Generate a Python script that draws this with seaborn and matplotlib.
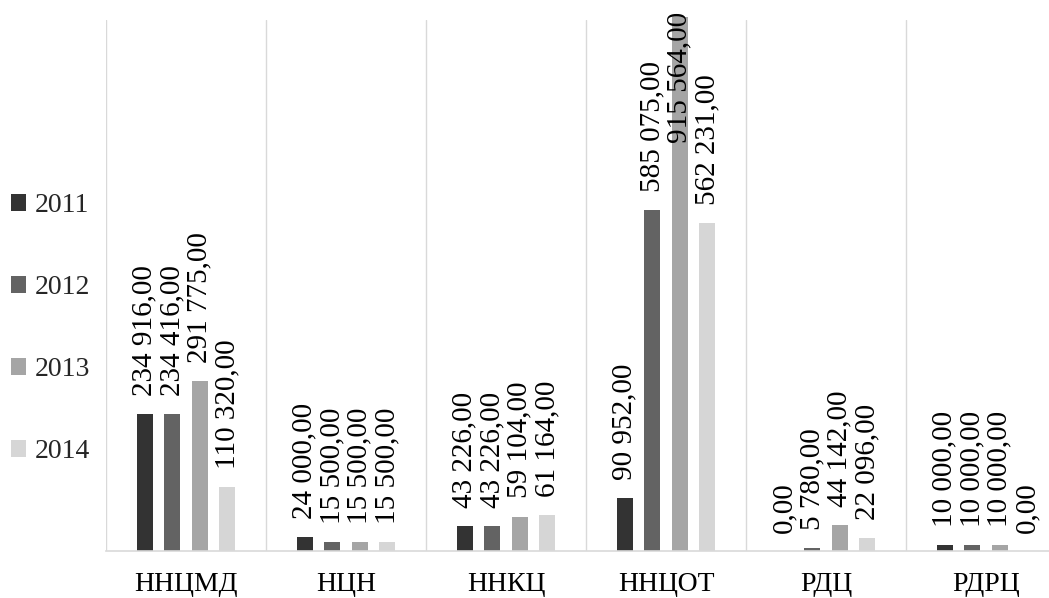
import numpy as np
import pandas as pd
import matplotlib
matplotlib.use("Agg")
import matplotlib.pyplot as plt
from matplotlib.patches import Patch
import seaborn as sns

categories = ["ННЦМД", "НЦН", "ННКЦ", "ННЦОТ", "РДЦ", "РДРЦ"]
years = ["2011", "2012", "2013", "2014"]
values_2011 = [234916.00, 24000.00, 43226.00, 90952.00, 0.00, 10000.00]
values_2012 = [234416.00, 15500.00, 43226.00, 585075.00, 5780.00, 10000.00]
values_2013 = [291775.00, 15500.00, 59104.00, 915564.00, 44142.00, 10000.00]
values_2014 = [110320.00, 15500.00, 61164.00, 562231.00, 22096.00, 0.00]
colors = ["#333333", "#636363", "#a5a5a5", "#d6d6d6"]

series = [values_2011, values_2012, values_2013, values_2014]
df = pd.DataFrame(
    [(c, y, v) for y, vals in zip(years, series) for c, v in zip(categories, vals)],
    columns=["category", "year", "value"],
)

sns.set_theme(style="white")
plt.rcParams["font.family"] = ["Liberation Serif", "DejaVu Serif"]

W, H = 1049, 598
fig = plt.figure(figsize=(W / 100, H / 100), dpi=100)
left, bottom, top = 106, 551, 20
ax = fig.add_axes([left / W, (H - bottom) / H, 960 / W, (bottom - top) / H])

sns.barplot(
    data=df, x="category", y="value", hue="year",
    order=categories, hue_order=years, palette=colors,
    width=0.69, gap=0.42, errorbar=None, ax=ax, legend=False,
    saturation=1, linewidth=0,
)

ymax = 910000
ax.set_ylim(0, ymax)
ax.set_xlim(-0.5, 5.5)

# category separators
for b in np.arange(-0.5, 6.0, 1.0):
    ax.axvline(b, color="#d9d9d9", lw=1, zorder=0)

for spine in ["top", "right", "left"]:
    ax.spines[spine].set_visible(False)
ax.spines["bottom"].set_color("#d9d9d9")
ax.spines["bottom"].set_linewidth(1.2)

ax.set_yticks([])
ax.set_xlabel("")
ax.set_ylabel("")
ax.tick_params(axis="x", length=0, pad=15, labelsize=20, colors="black")


def fmt(v):
    return f"{v:,.2f}".replace(",", " ").replace(".", ",")


for container, vals in zip(ax.containers, series):
    for bar, v in zip(container, vals):
        bar.set_clip_on(False)
        x = bar.get_x() + bar.get_width() / 2
        if v > 0.9 * ymax:
            ax.annotate(fmt(v), (x, ymax), xytext=(0, 6), textcoords="offset points",
                        rotation=90, ha="center", va="top", fontsize=21,
                        color="black", annotation_clip=False)
        else:
            ax.annotate(fmt(v), (x, v), xytext=(0, 13), textcoords="offset points",
                        rotation=90, ha="center", va="bottom", fontsize=21,
                        color="black", annotation_clip=False)

handles = [Patch(facecolor=c, edgecolor="none") for c in colors]
fig.legend(handles, years, loc="center left", bbox_to_anchor=(0.0, 0.45),
           frameon=False, fontsize=20, labelspacing=2.05, handlelength=0.55,
           handleheight=0.55, handletextpad=0.3, borderpad=0.2, borderaxespad=0.2)

fig.savefig("out.png", dpi=100)
